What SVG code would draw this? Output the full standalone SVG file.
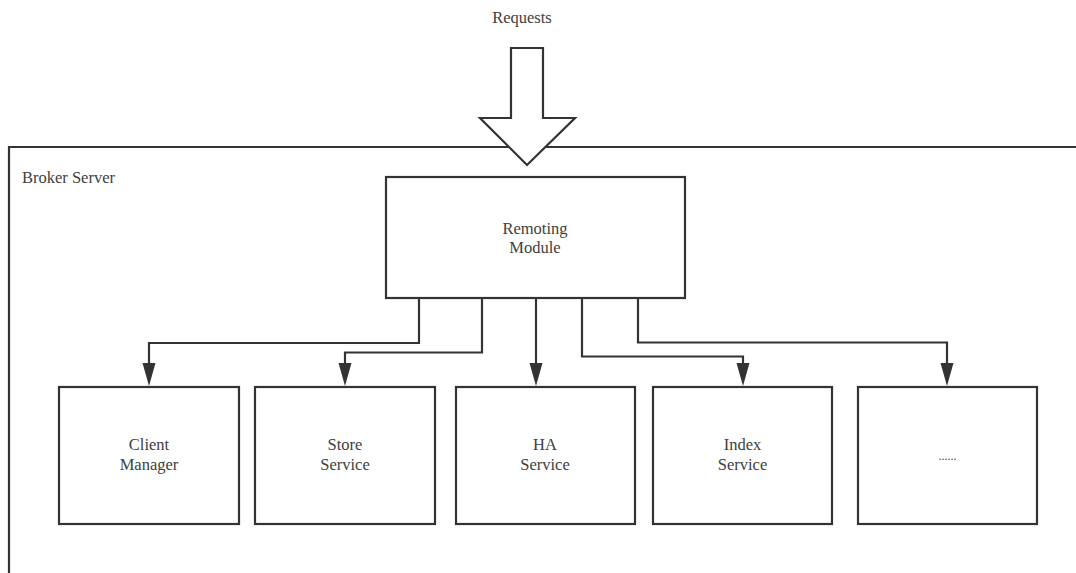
<svg xmlns="http://www.w3.org/2000/svg" width="1076" height="573" viewBox="0 0 1076 573">
  <style>
    .box { fill: #ffffff; stroke: #333333; stroke-width: 2.2; }
    .wire { fill: none; stroke: #333333; stroke-width: 2.2; }
    .tip { fill: #333333; }
    .label { font-family: "Liberation Serif", "Times New Roman", serif; font-size: 16.5px; fill: #404040; text-anchor: middle; }
    .title { font-family: "Liberation Serif", "Times New Roman", serif; font-size: 16.5px; fill: #404040; }
  </style>
  <rect width="1076" height="573" fill="#ffffff"/>

  <!-- server boundary (open to the right and bottom) -->
  <g id="broker-server">
    <path class="wire" d="M9 574 V147 H1077"/>
    <text class="title" x="22" y="183">Broker Server</text>
  </g>

  <!-- incoming requests -->
  <g id="requests">
    <text class="label" x="522" y="23">Requests</text>
    <path class="box" d="M511 48 H543 V118 H575 L527 165 L480 118 H511 Z"/>
  </g>

  <g id="remoting-module">
    <rect class="box" x="386" y="177" width="299" height="121"/>
    <text class="label" x="535" y="234">Remoting</text>
    <text class="label" x="535" y="253">Module</text>
  </g>

  <g id="client-manager">
    <rect class="box" x="59" y="387" width="180" height="137"/>
    <text class="label" x="149" y="450">Client</text>
    <text class="label" x="149" y="470">Manager</text>
  </g>

  <g id="store-service">
    <rect class="box" x="255" y="387" width="180" height="137"/>
    <text class="label" x="345" y="450">Store</text>
    <text class="label" x="345" y="470">Service</text>
  </g>

  <g id="ha-service">
    <rect class="box" x="456" y="387" width="179" height="137"/>
    <text class="label" x="545" y="450">HA</text>
    <text class="label" x="545" y="470">Service</text>
  </g>

  <g id="index-service">
    <rect class="box" x="653" y="387" width="179" height="137"/>
    <text class="label" x="742.5" y="450">Index</text>
    <text class="label" x="742.5" y="470">Service</text>
  </g>

  <g id="more-services">
    <rect class="box" x="858" y="387" width="179" height="137"/>
    <text class="label" x="947.5" y="460" style="font-size:12px">......</text>
  </g>

  <!-- connectors from the remoting module to each service -->
  <g id="connectors">
    <path class="wire" d="M419 298 V343 H149 V364"/>
    <path class="wire" d="M482 298 V352.5 H345 V364"/>
    <path class="wire" d="M536 298 V364"/>
    <path class="wire" d="M582 298 V356.5 H743 V364"/>
    <path class="wire" d="M638 298 V342.5 H947 V364"/>
    <path class="tip" d="M142.5 363 H155.5 L149 386 Z"/>
    <path class="tip" d="M338.5 363 H351.5 L345 386 Z"/>
    <path class="tip" d="M529.5 363 H542.5 L536 386 Z"/>
    <path class="tip" d="M736.5 363 H749.5 L743 386 Z"/>
    <path class="tip" d="M940.5 363 H953.5 L947 386 Z"/>
  </g>
</svg>
